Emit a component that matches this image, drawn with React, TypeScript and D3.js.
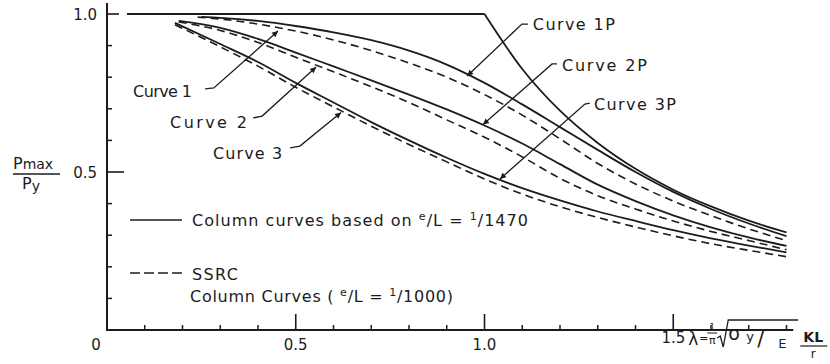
import * as React from 'react';
import * as d3 from 'd3';

// lambda (slenderness) vs Pmax/Py
const plateau: [number, number][] = [[0.053, 1.0], [1.0, 1.0]];
const eulerCurve: [number, number][] = [
    [1.0, 1.0], [1.1, 0.826], [1.2, 0.694], [1.3, 0.592], [1.4, 0.51],
    [1.5, 0.444], [1.6, 0.391], [1.7, 0.346], [1.8, 0.309]
];
const curve1P: [number, number][] = [
    [0.25, 0.991], [0.3, 0.988], [0.4, 0.978], [0.5, 0.962], [0.6, 0.942], [0.7, 0.917],
    [0.8, 0.884], [0.9, 0.84], [1.0, 0.782], [1.1, 0.714], [1.2, 0.642], [1.3, 0.57],
    [1.4, 0.5], [1.5, 0.437], [1.6, 0.383], [1.7, 0.337], [1.8, 0.297]
];
const curve1: [number, number][] = [
    [0.24, 0.99], [0.3, 0.984], [0.4, 0.968], [0.5, 0.946], [0.6, 0.918], [0.7, 0.884],
    [0.8, 0.845], [0.9, 0.8], [1.0, 0.745], [1.1, 0.68], [1.2, 0.605], [1.3, 0.527],
    [1.4, 0.462], [1.5, 0.408], [1.6, 0.362], [1.7, 0.32], [1.8, 0.283]
];
const curve2P: [number, number][] = [
    [0.19, 0.978], [0.3, 0.956], [0.4, 0.921], [0.5, 0.878], [0.6, 0.834], [0.7, 0.79],
    [0.8, 0.745], [0.9, 0.698], [1.0, 0.647], [1.1, 0.59], [1.2, 0.525], [1.3, 0.46],
    [1.4, 0.408], [1.5, 0.363], [1.6, 0.325], [1.7, 0.293], [1.8, 0.266]
];
const curve2: [number, number][] = [
    [0.19, 0.975], [0.3, 0.948], [0.4, 0.91], [0.5, 0.863], [0.6, 0.817], [0.7, 0.77],
    [0.8, 0.72], [0.9, 0.665], [1.0, 0.61], [1.1, 0.548], [1.2, 0.48], [1.3, 0.425],
    [1.4, 0.383], [1.5, 0.345], [1.6, 0.312], [1.7, 0.283], [1.8, 0.254]
];
const curve3P: [number, number][] = [
    [0.18, 0.972], [0.3, 0.905], [0.4, 0.848], [0.5, 0.782], [0.6, 0.72], [0.7, 0.658],
    [0.8, 0.6], [0.9, 0.545], [1.0, 0.494], [1.1, 0.449], [1.2, 0.41], [1.3, 0.375],
    [1.4, 0.345], [1.5, 0.316], [1.6, 0.29], [1.7, 0.267], [1.8, 0.246]
];
const curve3: [number, number][] = [
    [0.18, 0.966], [0.3, 0.896], [0.4, 0.835], [0.5, 0.768], [0.6, 0.706], [0.7, 0.645],
    [0.8, 0.587], [0.9, 0.532], [1.0, 0.478], [1.1, 0.43], [1.2, 0.39], [1.3, 0.356],
    [1.4, 0.326], [1.5, 0.298], [1.6, 0.273], [1.7, 0.252], [1.8, 0.232]
];

const xMajorTicks = [0.5, 1.0, 1.5];
const xMinorTicks = [0.1, 0.2, 0.3, 0.4, 0.6, 0.7, 0.8, 0.9, 1.1, 1.2, 1.3, 1.4, 1.6, 1.7, 1.8];
const yMajorTicks = [0.5, 1.0];
const yMinorTicks = [0.1, 0.2, 0.3, 0.4, 0.6, 0.7, 0.8, 0.9];
const xTickLabels = ['0', '0.5', '1.0', '1.5'];
const yTickLabels = ['0.5', '1.0'];

// curve labels: text anchor, leader path (data units), text width
const curveLabels = [
    {text: 'Curve 1', at: [0.069, 0.737], width: 59, leader: [[0.26, 0.763], [0.283, 0.766], [0.453, 0.946]]},
    {text: 'Curve 2', at: [0.167, 0.638], width: 77, leader: [[0.387, 0.671], [0.411, 0.677], [0.554, 0.832]]},
    {text: 'Curve 3', at: [0.281, 0.541], width: 69, leader: [[0.485, 0.576], [0.511, 0.582], [0.62, 0.688]]},
    {text: 'Curve 1P', at: [1.128, 0.95], width: 82, leader: [[1.115, 0.968], [1.099, 0.968], [0.954, 0.804]]},
    {text: 'Curve 2P', at: [1.205, 0.82], width: 85, leader: [[1.192, 0.842], [1.179, 0.842], [0.996, 0.65]]},
    {text: 'Curve 3P', at: [1.29, 0.695], width: 82, leader: [[1.279, 0.718], [1.266, 0.715], [1.041, 0.478]]}
];

const W = 830;
const H = 364;
const ink = '#1c1c1c';
const font = '"DejaVu Sans", Verdana, sans-serif';

function drawChart(el: SVGSVGElement) {
    const svg = d3.select(el);
    svg.selectAll('*').remove();

    const x = d3.scaleLinear().domain([0, 1]).range([107, 484.5]);
    const y = d3.scaleLinear().domain([0, 1]).range([330, 14]);

    svg.append('defs').append('marker')
        .attr('id', 'arrow')
        .attr('viewBox', '0 0 10 10')
        .attr('refX', 10).attr('refY', 5)
        .attr('markerWidth', 8).attr('markerHeight', 6)
        .attr('markerUnits', 'userSpaceOnUse')
        .attr('orient', 'auto')
        .append('path').attr('d', 'M0,0 L10,5 L0,10 Z').attr('fill', ink);

    // axes
    svg.append('line')
        .attr('x1', x(0)).attr('y1', y(1.035)).attr('x2', x(0)).attr('y2', y(0))
        .attr('stroke', ink).attr('stroke-width', 2);
    svg.append('line')
        .attr('x1', x(0) - 1).attr('y1', y(0)).attr('x2', x(1.818)).attr('y2', y(0))
        .attr('stroke', ink).attr('stroke-width', 2);

    svg.selectAll('.xminor').data(xMinorTicks).enter().append('line')
        .attr('x1', d => x(d)).attr('x2', d => x(d))
        .attr('y1', y(0)).attr('y2', y(0) - 5)
        .attr('stroke', ink).attr('stroke-width', 1.5);
    svg.selectAll('.xmajor').data(xMajorTicks).enter().append('line')
        .attr('x1', d => x(d)).attr('x2', d => x(d))
        .attr('y1', y(0)).attr('y2', y(0) - 16)
        .attr('stroke', ink).attr('stroke-width', 1.6);
    svg.selectAll('.yminor').data(yMinorTicks).enter().append('line')
        .attr('x1', x(0)).attr('x2', x(0) + 5)
        .attr('y1', d => y(d)).attr('y2', d => y(d))
        .attr('stroke', ink).attr('stroke-width', 1.5);
    svg.selectAll('.ymajor').data(yMajorTicks).enter().append('line')
        .attr('x1', x(0)).attr('x2', (d, i) => x(0) + (i === 0 ? 17 : 12))
        .attr('y1', d => y(d)).attr('y2', d => y(d))
        .attr('stroke', ink).attr('stroke-width', 1.6);

    const tickFont = 15;
    svg.selectAll('.xlabel').data(xTickLabels).enter().append('text')
        .attr('x', (d, i) => i === 0 ? x(0) - 11 : x(+d))
        .attr('y', (d, i) => i === 3 ? 343 : 350)
        .attr('text-anchor', (d, i) => i === 3 ? 'end' : 'middle')
        .attr('dx', (d, i) => i === 3 ? 12 : 0)
        .attr('font-family', font).attr('font-size', tickFont).attr('fill', ink)
        .text(d => d);
    svg.selectAll('.ylabel').data(yTickLabels).enter().append('text')
        .attr('x', x(0) - 10)
        .attr('y', d => y(+d) + 5.5)
        .attr('text-anchor', 'end')
        .attr('font-family', font).attr('font-size', tickFont).attr('fill', ink)
        .text(d => d);

    // y axis title  Pmax / Py
    const yt = svg.append('text').attr('x', 13).attr('y', 169)
        .attr('font-family', font).attr('font-size', 16).attr('fill', ink);
    yt.append('tspan').text('P');
    yt.append('tspan').attr('font-size', 14).text('max');
    svg.append('line').attr('x1', 13).attr('x2', 60).attr('y1', 174).attr('y2', 174)
        .attr('stroke', ink).attr('stroke-width', 1.6);
    const yb = svg.append('text').attr('x', 22).attr('y', 189)
        .attr('font-family', font).attr('font-size', 16).attr('fill', ink);
    yb.append('tspan').text('P');
    yb.append('tspan').attr('font-size', 14).attr('dy', 2).text('y');

    // x axis formula  λ = 1/π √(σy/E) KL/r
    const fx = x(1.5);
    const formula = svg.append('g').attr('font-family', font).attr('fill', ink);
    formula.append('text').attr('x', fx + 15).attr('y', 345)
        .attr('font-size', 17).text('λ');
    formula.append('text').attr('x', fx + 26).attr('y', 342)
        .attr('font-size', 11).text('=');
    formula.append('text').attr('x', fx + 39).attr('y', 330).attr('text-anchor', 'middle')
        .attr('font-size', 8).text('1');
    formula.append('line').attr('x1', fx + 34).attr('x2', fx + 44).attr('y1', 333).attr('y2', 333)
        .attr('stroke', ink).attr('stroke-width', 1);
    formula.append('text').attr('x', fx + 39).attr('y', 344).attr('text-anchor', 'middle')
        .attr('font-size', 11).text('π');
    formula.append('path')
        .attr('d', `M${fx + 44},338 L${fx + 47},336 L${fx + 50},347 L${fx + 55},320 L${fx + 125},320`)
        .attr('fill', 'none').attr('stroke', ink).attr('stroke-width', 1.3);
    formula.append('text').attr('x', fx + 55).attr('y', 340)
        .attr('font-size', 19).text('σ');
    formula.append('text').attr('x', fx + 73).attr('y', 341)
        .attr('font-size', 13).text('y');
    formula.append('text').attr('x', fx + 84).attr('y', 346)
        .attr('font-size', 21).text('/');
    formula.append('text').attr('x', fx + 105).attr('y', 348)
        .attr('font-size', 13).text('E');
    formula.append('text').attr('x', fx + 140).attr('y', 342).attr('text-anchor', 'middle')
        .attr('font-size', 14).attr('font-weight', 'bold').text('KL');
    formula.append('line').attr('x1', fx + 127).attr('x2', fx + 154).attr('y1', 346).attr('y2', 346)
        .attr('stroke', ink).attr('stroke-width', 1.2);
    formula.append('text').attr('x', fx + 140).attr('y', 358).attr('text-anchor', 'middle')
        .attr('font-size', 12).text('r');

    // curves
    const line = d3.line<[number, number]>()
        .x(d => x(d[0]))
        .y(d => y(d[1]))
        .curve(d3.curveMonotoneX);

    const solids = [plateau, eulerCurve, curve1P, curve2P, curve3P];
    const dashed = [curve1, curve2, curve3];

    svg.selectAll('.solid').data(solids).enter().append('path')
        .attr('d', d => line(d))
        .attr('fill', 'none').attr('stroke', ink).attr('stroke-width', 1.8);
    svg.selectAll('.dashed').data(dashed).enter().append('path')
        .attr('d', d => line(d))
        .attr('fill', 'none').attr('stroke', ink).attr('stroke-width', 1.6)
        .attr('stroke-dasharray', '8,5');

    // curve labels and leaders
    const leader = d3.line<number[]>().x(d => x(d[0])).y(d => y(d[1]));
    svg.selectAll('.leader').data(curveLabels).enter().append('path')
        .attr('d', d => leader(d.leader))
        .attr('fill', 'none').attr('stroke', ink).attr('stroke-width', 1.3)
        .attr('marker-end', 'url(#arrow)');
    svg.selectAll('.clabel').data(curveLabels).enter().append('text')
        .attr('x', d => x(d.at[0]))
        .attr('y', d => y(d.at[1]))
        .attr('textLength', d => d.width)
        .attr('lengthAdjust', 'spacing')
        .attr('font-family', font).attr('font-size', 16).attr('fill', ink)
        .text(d => d.text);

    // legend
    svg.append('line').attr('x1', 130).attr('x2', 182).attr('y1', 220).attr('y2', 220)
        .attr('stroke', ink).attr('stroke-width', 1.5);
    svg.append('line').attr('x1', 130).attr('x2', 183).attr('y1', 273).attr('y2', 273)
        .attr('stroke', ink).attr('stroke-width', 1.5).attr('stroke-dasharray', '10,4');

    const l1 = svg.append('text').attr('x', 192).attr('y', 226)
        .attr('font-family', font).attr('font-size', 16).attr('fill', ink)
        .attr('textLength', 336).attr('lengthAdjust', 'spacing');
    l1.append('tspan').text('Column curves based on ');
    l1.append('tspan').attr('font-size', 11).attr('dy', -6).text('e');
    l1.append('tspan').attr('dy', 6).text('/L = ');
    l1.append('tspan').attr('font-size', 11).attr('dy', -6).text('1');
    l1.append('tspan').attr('dy', 6).text('/1470');

    svg.append('text').attr('x', 192).attr('y', 280)
        .attr('font-family', font).attr('font-size', 16).attr('fill', ink)
        .attr('textLength', 46).attr('lengthAdjust', 'spacing')
        .text('SSRC');
    const l2 = svg.append('text').attr('x', 190).attr('y', 302)
        .attr('font-family', font).attr('font-size', 16).attr('fill', ink)
        .attr('textLength', 263).attr('lengthAdjust', 'spacing');
    l2.append('tspan').text('Column Curves ( ');
    l2.append('tspan').attr('font-size', 11).attr('dy', -6).text('e');
    l2.append('tspan').attr('dy', 6).text('/L = ');
    l2.append('tspan').attr('font-size', 11).attr('dy', -6).text('1');
    l2.append('tspan').attr('dy', 6).text('/1000)');
}

export default function App() {
    const ref = React.useRef<SVGSVGElement>(null);
    React.useEffect(() => {
        document.body.style.margin = '0';
        if (ref.current) {
            drawChart(ref.current);
        }
    }, []);
    return (
        <svg ref={ref} width={W} height={H}
             style={{position: 'absolute', left: 0, top: 0, background: '#fff'}} />
    );
}
